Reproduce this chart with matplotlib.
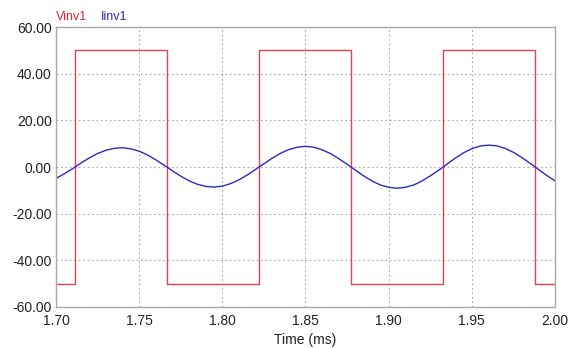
import matplotlib
matplotlib.use("Agg")
import matplotlib.pyplot as plt

plt.rcParams['font.family'] = ['Liberation Sans', 'DejaVu Sans']

# Square-wave voltage: edge times (ms) and levels (V), step-post
v_times = [1.70, 1.7114, 1.7667, 1.8220, 1.8773, 1.9327, 1.9880, 2.00]
v_levels = [-50, 50, -50, 50, -50, 50, -50, -50]

# Current samples (A) read every 0.005 ms
i_times = [1.700 + 0.005 * k for k in range(61)]
i_values = [-4.9, -2.9, -0.7, 1.7, 3.9, 5.8, 7.2, 8.0, 8.3, 7.8,
            6.8, 5.2, 3.1, 0.8, -1.6, -3.9, -5.9, -7.4, -8.3, -8.6,
            -8.2, -7.1, -5.5, -3.4, -1.0, 1.4, 3.8, 5.9, 7.5, 8.5,
            8.9, 8.5, 7.4, 5.8, 3.6, 1.2, -1.3, -3.8, -6.0, -7.7,
            -8.7, -9.1, -8.7, -7.7, -6.0, -3.8, -1.4, 1.2, 3.8, 6.1,
            7.9, 9.0, 9.4, 9.1, 8.0, 6.3, 4.1, 1.6, -1.0, -3.6, -5.9]

x_ticks = [1.70, 1.75, 1.80, 1.85, 1.90, 1.95, 2.00]
y_ticks = [-60, -40, -20, 0, 20, 40, 60]

fig = plt.figure(figsize=(5.71, 3.48), dpi=100)
ax = fig.add_axes([0.098, 0.118, 0.874, 0.804])

ax.plot(v_times, v_levels, drawstyle='steps-post', color='#e04450', lw=1.0)
ax.plot(i_times, i_values, color='#2a2ac8', lw=1.0)

ax.set_xlim(1.70, 2.00)
ax.set_ylim(-60, 60)
ax.set_xticks(x_ticks)
ax.set_xticklabels([f"{t:.2f}" for t in x_ticks])
ax.set_yticks(y_ticks)
ax.set_yticklabels([f"{v:.2f}" for v in y_ticks])
ax.tick_params(length=0, labelsize=10, colors='#222222')
ax.tick_params(axis='y', pad=3)
ax.tick_params(axis='x', pad=5)
ax.grid(True, color='#aaaaaa', linestyle=(0, (1.5, 2.5)), lw=0.8)
for s in ax.spines.values():
    s.set_color('#aaaaaa')
    s.set_linewidth(1.0)

ax.set_xlabel("Time (ms)", fontsize=10, color='#222222', labelpad=4)
fig.text(0.098, 0.9425, "Vinv1", color='#e02030', fontsize=9, ha='left', va='baseline')
fig.text(0.176, 0.9425, "Iinv1", color='#2a2ac8', fontsize=9, ha='left', va='baseline')

fig.savefig("out.png", dpi=100)
